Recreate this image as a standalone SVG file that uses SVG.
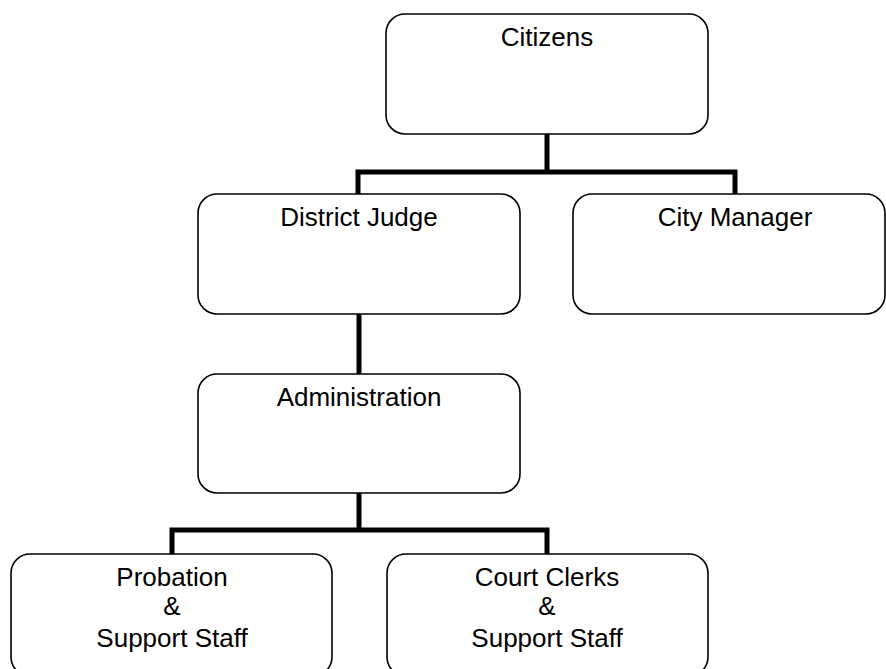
<svg xmlns="http://www.w3.org/2000/svg" width="886" height="669" viewBox="0 0 886 669">
<style>
.box{fill:#fff;stroke:#000;stroke-width:1.6}
.lbl{font-family:"Liberation Sans",Arial,sans-serif;font-size:26px;fill:#000;text-anchor:middle}
.conn{fill:none;stroke:#000;stroke-width:5;stroke-linejoin:miter;stroke-linecap:round}
</style>
<rect width="886" height="669" fill="#fff"/>
<g id="connectors">
<path class="conn" d="M547,134 V172 M358,194 V172 H735 V194"/>
<path class="conn" d="M359,314 V374"/>
<path class="conn" d="M359,493 V530 M172,554 V530 H547 V554"/>
</g>
<g id="citizens">
<rect class="box" x="386" y="14" width="322" height="120" rx="19" ry="19"/>
<text class="lbl" x="547" y="46">Citizens</text>
</g>
<g id="district-judge">
<rect class="box" x="198" y="194" width="322" height="120" rx="19" ry="19"/>
<text class="lbl" x="359" y="226">District Judge</text>
</g>
<g id="city-manager">
<rect class="box" x="573" y="194" width="312" height="120" rx="19" ry="19"/>
<text class="lbl" x="735" y="226">City Manager</text>
</g>
<g id="administration">
<rect class="box" x="198" y="374" width="322" height="119" rx="19" ry="19"/>
<text class="lbl" x="359" y="406">Administration</text>
</g>
<g id="probation">
<rect class="box" x="11" y="554" width="321" height="122" rx="19" ry="19"/>
<text class="lbl" x="172" y="586">Probation</text>
<text class="lbl" x="172" y="615">&amp;</text>
<text class="lbl" x="172" y="647">Support Staff</text>
</g>
<g id="court-clerks">
<rect class="box" x="387" y="554" width="321" height="122" rx="19" ry="19"/>
<text class="lbl" x="547" y="586">Court Clerks</text>
<text class="lbl" x="547" y="615">&amp;</text>
<text class="lbl" x="547" y="647">Support Staff</text>
</g>
</svg>
